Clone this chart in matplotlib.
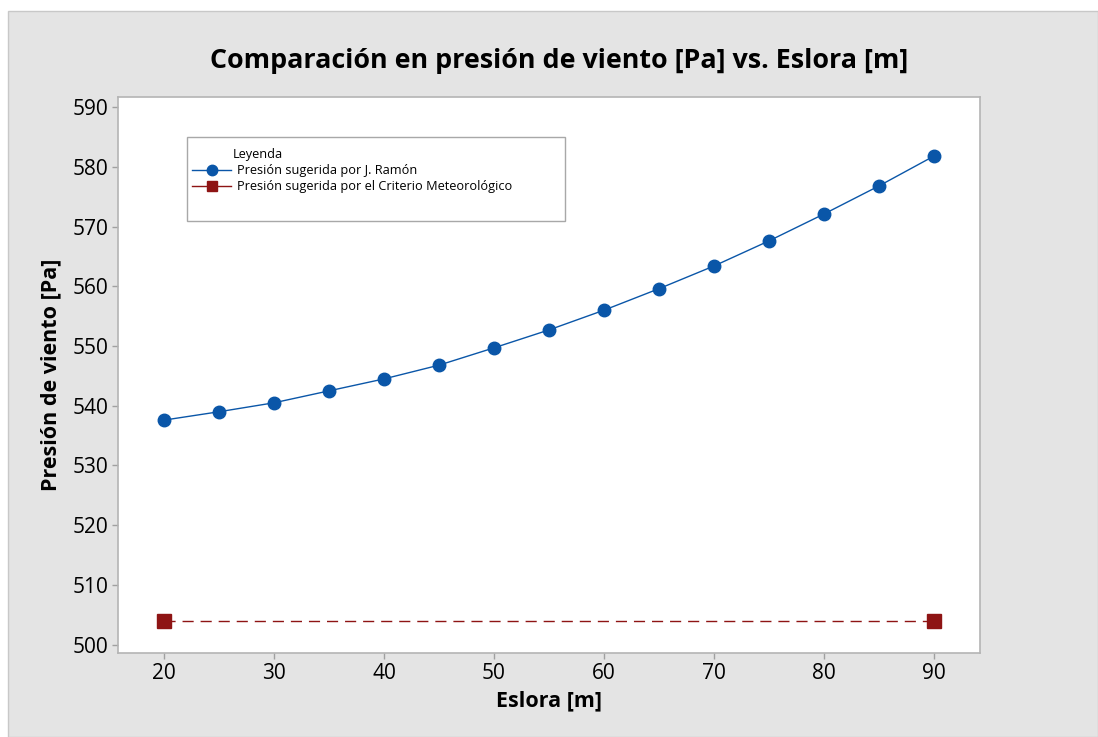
import matplotlib
matplotlib.use("Agg")
import matplotlib.pyplot as plt
from matplotlib.patches import Rectangle
from matplotlib.lines import Line2D

plt.rcParams['font.family'] = ['Open Sans', 'DejaVu Sans']

eslora = [20, 25, 30, 35, 40, 45, 50, 55, 60, 65, 70, 75, 80, 85, 90]
presion_ramon = [537.6, 539.0, 540.5, 542.5, 544.5, 546.8, 549.7, 552.7,
                 556.0, 559.6, 563.4, 567.6, 572.1, 576.8, 581.8]
eslora_met = [20, 90]
presion_met = [503.9, 503.9]
x_ticks = [20, 30, 40, 50, 60, 70, 80, 90]
y_ticks = [500, 510, 520, 530, 540, 550, 560, 570, 580, 590]

W, H = 1098, 737
fig = plt.figure(figsize=(W / 100, H / 100), dpi=100, facecolor='white')
bg = Rectangle((8 / W, 0), 1 - 8 / W, 1 - 11 / H, transform=fig.transFigure,
               facecolor='#e4e4e4', edgecolor='#c8c8c8', linewidth=1, zorder=-10)
fig.patches.append(bg)

ax = fig.add_axes([118 / W, 1 - 653 / H, (980 - 118) / W, (653 - 97) / H])
ax.set_facecolor('white')

blue = '#0a56a8'
red = '#8e1414'
ax.plot(eslora, presion_ramon, color=blue, linewidth=1.0, marker='o',
        markersize=9, markerfacecolor=blue, markeredgecolor=blue, zorder=3)
ax.plot(eslora_met, presion_met, color=red, linewidth=1.0, linestyle=(0, (8, 5)),
        marker='s', markersize=9.5, markerfacecolor=red, markeredgecolor=red, zorder=3)

ax.set_xlim(15.8, 94.2)
ax.set_ylim(498.6, 591.7)
ax.set_xticks(x_ticks)
ax.set_yticks(y_ticks)
ax.tick_params(axis='both', direction='out', length=4, width=1, color='#a0a0a0',
               labelsize=15, labelcolor='black', pad=3)
for lab in ax.get_xticklabels() + ax.get_yticklabels():
    lab.set_fontweight('medium')
for s in ax.spines.values():
    s.set_color('#b4b4b4')
    s.set_linewidth(1.2)

ax.set_xlabel('Eslora [m]', fontsize=15.5, fontweight='bold', labelpad=5)
ax.set_ylabel('Presión de viento [Pa]', fontsize=15.5, fontweight='bold', labelpad=8)
fig.text(559 / W, 1 - 61 / H, 'Comparación en presión de viento [Pa] vs. Eslora [m]',
         ha='center', va='center', fontsize=19.4, fontweight='bold')

# legend box
x0 = (187 - 118) / 862
x1 = (565 - 118) / 862
yt = (653 - 137) / 556
yb = (653 - 221) / 556
ax.add_patch(Rectangle((x0, yb), x1 - x0, yt - yb, transform=ax.transAxes,
                       facecolor='white', edgecolor='#a8a8a8', linewidth=1, zorder=5))
h1 = Line2D([], [], color=blue, linewidth=1.0, marker='o', markersize=7.5,
            markerfacecolor=blue, markeredgecolor=blue)
h2 = Line2D([], [], color=red, linewidth=1.0, marker='s', markersize=7.5,
            markerfacecolor=red, markeredgecolor=red)
leg = ax.legend([h1, h2], ['Presión sugerida por J. Ramón',
                           'Presión sugerida por el Criterio Meteorológico'],
                title='Leyenda', loc='upper left',
                bbox_to_anchor=(x0 - 0.007, yt + 0.001), frameon=False,
                fontsize=9.2, title_fontsize=9.2, alignment='left',
                handlelength=3.0, handletextpad=0.5, labelspacing=0.25,
                borderpad=0.4)
leg.set_zorder(6)
leg.get_title().set_position((40, 0))

fig.savefig('out.png', dpi=100, facecolor=fig.get_facecolor())
